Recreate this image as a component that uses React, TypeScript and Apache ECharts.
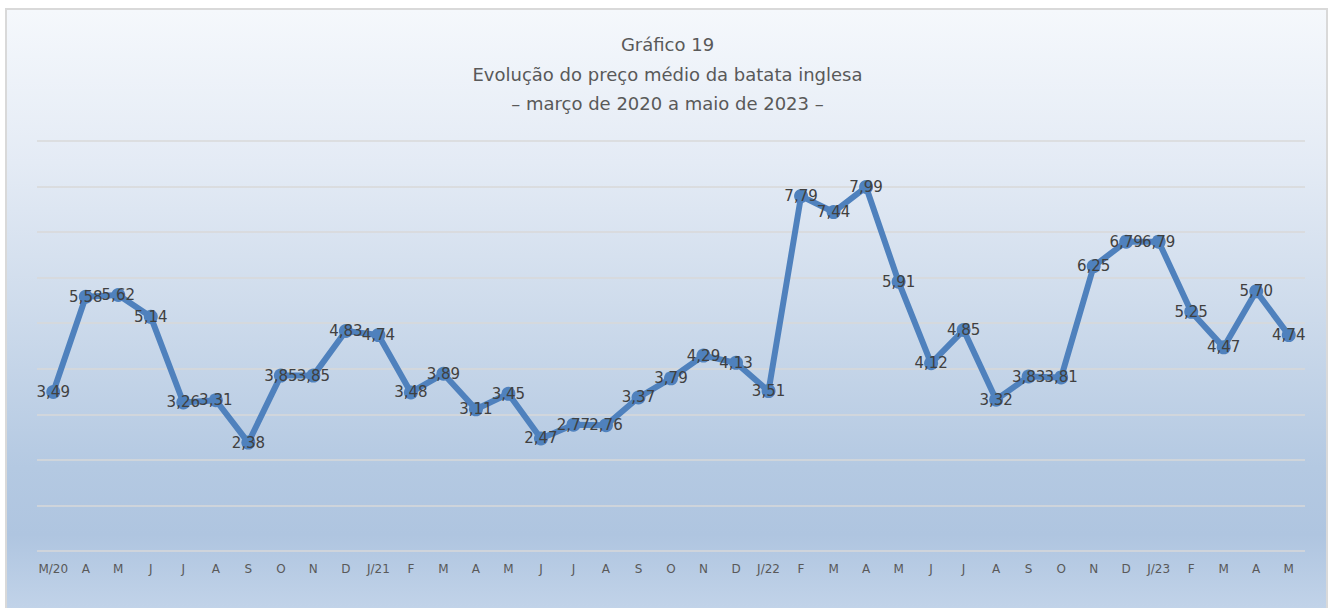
import React, { useEffect, useRef } from "react";
import * as echarts from "echarts";

const categories = [
  "M/20", "A", "M", "J", "J", "A", "S", "O", "N", "D",
  "J/21", "F", "M", "A", "M", "J", "J", "A", "S", "O", "N", "D",
  "J/22", "F", "M", "A", "M", "J", "J", "A", "S", "O", "N", "D",
  "J/23", "F", "M", "A", "M",
];

const prices = [
  3.49, 5.58, 5.62, 5.14, 3.26, 3.31, 2.38, 3.85, 3.85, 4.83,
  4.74, 3.48, 3.89, 3.11, 3.45, 2.47, 2.77, 2.76, 3.37, 3.79, 4.29, 4.13,
  3.51, 7.79, 7.44, 7.99, 5.91, 4.12, 4.85, 3.32, 3.83, 3.81, 6.25, 6.79,
  6.79, 5.25, 4.47, 5.70, 4.74,
];

const titleLines = [
  "Gráfico 19",
  "Evolução do preço médio da batata inglesa",
  "– março de 2020 a maio de 2023 –",
];

export default function App() {
  const ref = useRef<HTMLDivElement>(null);

  useEffect(() => {
    if (!ref.current) return;
    const chart = echarts.init(ref.current, null, { renderer: "svg" });
    chart.setOption({
      animation: false,
      title: {
        text: titleLines.join("\n"),
        left: "center",
        top: 25,
        textStyle: {
          fontFamily: "DejaVu Sans",
          fontSize: 18,
          fontWeight: "normal",
          color: "#595959",
          lineHeight: 29.5,
        },
      },
      grid: { left: 37, right: 30, top: 141, bottom: 57 },
      xAxis: {
        type: "category",
        data: categories,
        boundaryGap: true,
        axisLine: { show: false },
        axisTick: { show: false },
        axisLabel: {
          interval: 0,
          margin: 12,
          fontFamily: "DejaVu Sans",
          fontSize: 12,
          color: "#595959",
        },
      },
      yAxis: {
        type: "value",
        min: 0,
        max: 9,
        interval: 1,
        axisLabel: { show: false },
        axisLine: { show: false },
        axisTick: { show: false },
        splitLine: { lineStyle: { color: "#d9d9d9", width: 1.5 } },
      },
      series: [
        {
          type: "line",
          data: prices,
          symbol: "circle",
          symbolSize: 14,
          itemStyle: { color: "#4f81bd" },
          lineStyle: { color: "#4f81bd", width: 6 },
          label: {
            show: true,
            position: "inside",
            fontFamily: "DejaVu Sans",
            fontSize: 15,
            color: "#404040",
            formatter: (p: any) => Number(p.value).toFixed(2).replace(".", ","),
          },
        },
      ],
    });
    return () => chart.dispose();
  }, []);

  return (
    <div style={{ position: "absolute", left: 0, top: 0, width: 1335, height: 608, overflow: "hidden" }}>
      <div
        style={{
          position: "absolute",
          left: 5,
          top: 8,
          width: 1319,
          height: 610,
          border: "2px solid #d9d9d9",
          background:
            "linear-gradient(to bottom, #f5f8fc 0%, #e4ebf5 25%, #cfdcec 48%, #b4c9e2 75%, #afc5e0 86%, #c4d5ea 100%)",
        }}
      />
      <div ref={ref} style={{ position: "absolute", left: 0, top: 0, width: 1335, height: 608 }} />
    </div>
  );
}
